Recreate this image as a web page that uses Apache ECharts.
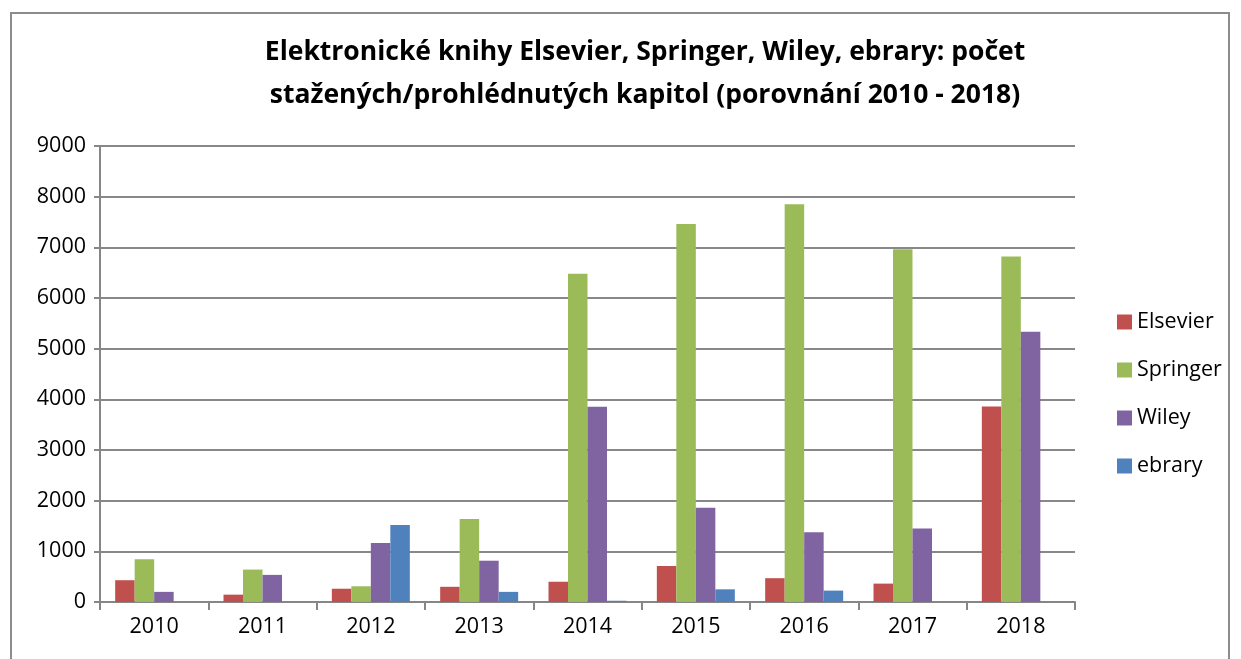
<!DOCTYPE html>
<html>
<head>
<meta charset="utf-8">
<script src="https://cdn.jsdelivr.net/npm/echarts@6/dist/echarts.min.js"></script>
<style>
  html, body { margin: 0; padding: 0; background: #fff; }
  #frame { position: absolute; left: 10px; top: 12px; width: 1220px; height: 660px; border: 2px solid #8c8c8c; box-sizing: border-box; }
  #chart { position: absolute; left: 0; top: 0; width: 1241px; height: 659px; }
</style>
</head>
<body>
<div id="frame"></div>
<div id="chart"></div>
<script>
var years = ['2010', '2011', '2012', '2013', '2014', '2015', '2016', '2017', '2018']
var elsevier = [430, 145, 262, 300, 400, 710, 470, 363, 3860]
var springer = [843, 640, 310, 1640, 6480, 7460, 7850, 6960, 6820]
var wiley = [200, 535, 1165, 815, 3855, 1860, 1375, 1450, 5335]
var ebrary = [0, 0, 1520, 200, 25, 250, 225, 0, 0]
var yTicks = { min: 0, max: 9000, interval: 1000 }

var myChart = echarts.init(document.getElementById('chart'))
var font = 'Open Sans'

function bars(name, data, color) {
  return {
    name: name,
    type: 'bar',
    data: data,
    barGap: '0%',
    barCategoryGap: '28%',
    itemStyle: { color: color }
  }
}

var option = {
  animation: false,
  title: {
    text: 'Elektronické knihy Elsevier, Springer, Wiley, ebrary: počet\nstažených/prohlédnutých kapitol (porovnání 2010 - 2018)',
    left: 640,
    textAlign: 'center',
    top: 26,
    textStyle: {
      fontFamily: font,
      fontWeight: 'bold',
      fontSize: 26.5,
      lineHeight: 43,
      color: '#000'
    }
  },
  legend: {
    orient: 'vertical',
    left: 1112,
    top: 306,
    itemGap: 26,
    itemWidth: 15,
    itemHeight: 15,
    icon: 'rect',
    textStyle: { fontFamily: font, fontSize: 21.5, color: '#000' },
    data: ['Elsevier', 'Springer', 'Wiley', 'ebrary']
  },
  grid: { left: 100, right: 166, top: 146, bottom: 57 },
  xAxis: {
    type: 'category',
    data: years,
    axisLine: { lineStyle: { color: '#868686', width: 2 } },
    axisTick: { show: true, length: 8, lineStyle: { color: '#868686', width: 2 } },
    axisLabel: { fontFamily: font, fontSize: 21.5, color: '#000', margin: 14 }
  },
  yAxis: {
    type: 'value',
    min: yTicks.min,
    max: yTicks.max,
    interval: yTicks.interval,
    axisLine: { show: true, lineStyle: { color: '#868686', width: 2 } },
    axisTick: { show: true, length: 6, lineStyle: { color: '#868686', width: 2 } },
    axisLabel: { fontFamily: font, fontSize: 21.5, color: '#000', margin: 14, formatter: function (v) { return String(v) } },
    splitLine: { lineStyle: { color: '#888', width: 2 } }
  },
  series: [
    bars('Elsevier', elsevier, '#C0504D'),
    bars('Springer', springer, '#9BBB59'),
    bars('Wiley', wiley, '#8064A2'),
    bars('ebrary', ebrary, '#4F81BD')
  ]
}

myChart.setOption(option)
</script>
</body>
</html>
